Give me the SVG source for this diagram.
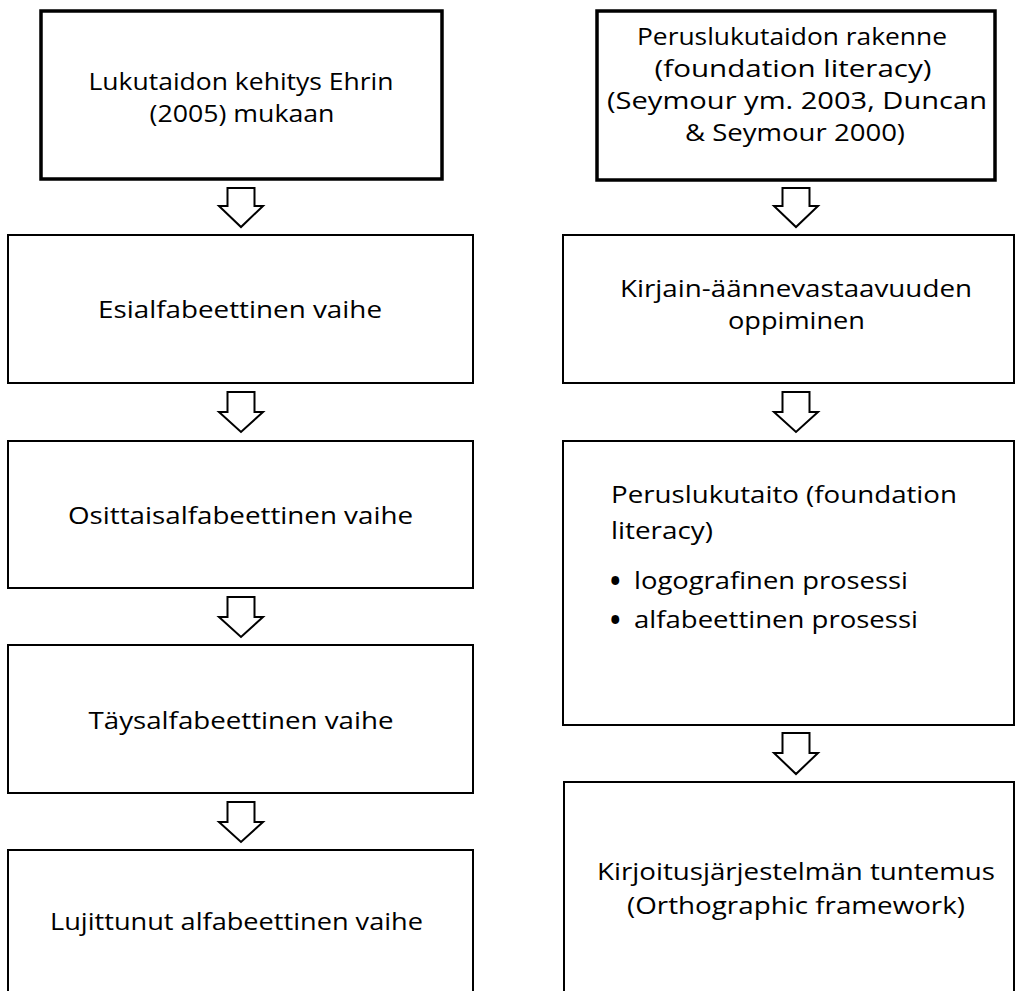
<svg xmlns="http://www.w3.org/2000/svg" width="1016" height="991" viewBox="0 0 1016 991">
<style>
.box{fill:#fff;stroke:#000;stroke-width:2}
.head{stroke-width:3.5}
.arr{fill:#fff;stroke:#000;stroke-width:2;stroke-linejoin:miter}
text{font-family:"Open Sans","Noto Sans","DejaVu Sans",sans-serif;font-size:24.5px;fill:#000}
.c{text-anchor:middle}
.bul{font-size:28px;font-weight:bold}
</style>
<rect width="1016" height="991" fill="#fff"/>
<g id="connectors">
<path class="arr" d="M227.5,188 H254.5 V206 H263 L241,227 L219,206 H227.5 Z"/>
<path class="arr" d="M227.5,392 H254.5 V412 H263 L241,432 L219,412 H227.5 Z"/>
<path class="arr" d="M227.5,597 H254.5 V617 H263 L241,637 L219,617 H227.5 Z"/>
<path class="arr" d="M227.5,802 H254.5 V822 H263 L241,842 L219,822 H227.5 Z"/>
<path class="arr" d="M782.5,188 H809.5 V206 H818 L796,227 L774,206 H782.5 Z"/>
<path class="arr" d="M782.5,392 H809.5 V412 H818 L796,432 L774,412 H782.5 Z"/>
<path class="arr" d="M782.5,733 H809.5 V753 H818 L796,774 L774,753 H782.5 Z"/>
</g>
<g id="node-ehri">
<rect class="box head" x="41" y="11" width="401" height="168"/>
<text class="c" x="241" y="90" textLength="305" lengthAdjust="spacingAndGlyphs">Lukutaidon kehitys Ehrin</text>
<text class="c" x="242" y="122" textLength="185" lengthAdjust="spacingAndGlyphs">(2005) mukaan</text>
</g>
<g id="node-seymour">
<rect class="box head" x="597" y="11" width="398" height="169"/>
<text class="c" x="792" y="45" textLength="310" lengthAdjust="spacingAndGlyphs">Peruslukutaidon rakenne</text>
<text class="c" x="793" y="77" textLength="277" lengthAdjust="spacingAndGlyphs">(foundation literacy)</text>
<text class="c" x="797" y="109" textLength="380" lengthAdjust="spacingAndGlyphs">(Seymour ym. 2003, Duncan</text>
<text class="c" x="795" y="141" textLength="220" lengthAdjust="spacingAndGlyphs">&amp; Seymour 2000)</text>
</g>
<g id="node-esi">
<rect class="box" x="8" y="235" width="465" height="148"/>
<text class="c" x="240" y="318" textLength="284" lengthAdjust="spacingAndGlyphs">Esialfabeettinen vaihe</text>
</g>
<g id="node-osittais">
<rect class="box" x="8" y="441" width="465" height="147"/>
<text class="c" x="240.5" y="524" textLength="345" lengthAdjust="spacingAndGlyphs">Osittaisalfabeettinen vaihe</text>
</g>
<g id="node-tays">
<rect class="box" x="8" y="645" width="465" height="148"/>
<text class="c" x="241" y="729" textLength="305" lengthAdjust="spacingAndGlyphs">Täysalfabeettinen vaihe</text>
</g>
<g id="node-lujittunut">
<rect class="box" x="8" y="850" width="465" height="150"/>
<text class="c" x="236.5" y="930" textLength="373" lengthAdjust="spacingAndGlyphs">Lujittunut alfabeettinen vaihe</text>
</g>
<g id="node-kirjain">
<rect class="box" x="563" y="235" width="451" height="148"/>
<text class="c" x="796" y="297" textLength="352" lengthAdjust="spacingAndGlyphs">Kirjain-äännevastaavuuden</text>
<text class="c" x="796.5" y="329" textLength="137" lengthAdjust="spacingAndGlyphs">oppiminen</text>
</g>
<g id="node-peruslukutaito">
<rect class="box" x="563" y="441" width="451" height="284"/>
<text x="611" y="503" textLength="346" lengthAdjust="spacingAndGlyphs">Peruslukutaito (foundation</text>
<text x="611" y="539" textLength="102" lengthAdjust="spacingAndGlyphs">literacy)</text>
<text x="610" y="589"><tspan class="bul" y="591">•</tspan><tspan x="634" y="589" textLength="274" lengthAdjust="spacingAndGlyphs">logografinen prosessi</tspan></text>
<text x="610" y="628"><tspan class="bul" y="630">•</tspan><tspan x="634" y="628" textLength="284" lengthAdjust="spacingAndGlyphs">alfabeettinen prosessi</tspan></text>
</g>
<g id="node-kirjoitus">
<rect class="box" x="564" y="782" width="450" height="230"/>
<text class="c" x="796" y="880" textLength="398" lengthAdjust="spacingAndGlyphs">Kirjoitusjärjestelmän tuntemus</text>
<text class="c" x="796" y="914" textLength="338" lengthAdjust="spacingAndGlyphs">(Orthographic framework)</text>
</g>
</svg>
